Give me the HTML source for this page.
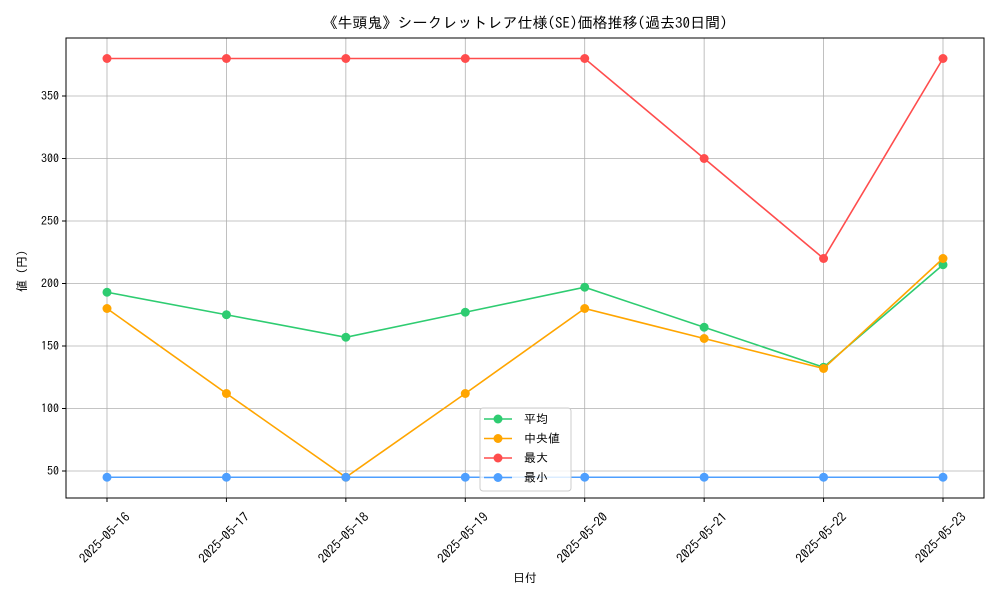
<!DOCTYPE html>
<html><head><meta charset="utf-8"><style>
body{margin:0;background:#fff;}
text{font-family:"IPAGothic","Noto Sans CJK JP",sans-serif;fill:#000;}
</style></head><body>
<svg id="c" width="1000" height="600"></svg>
<script>
const categories=["2025-05-16","2025-05-17","2025-05-18","2025-05-19","2025-05-20","2025-05-21","2025-05-22","2025-05-23"];
const avgVals=[193,175,157,177,197,165,133,215];
const medVals=[180,112,45,112,180,156,132,220];
const maxVals=[380,380,380,380,380,300,220,380];
const minVals=[45,45,45,45,45,45,45,45];
const yTicks=[50,100,150,200,250,300,350];
const seriesNames=["平均","中央値","最大","最小"];
const colors=["#2ecc71","#ffa500","#ff4d4d","#4d9fff"];
const NS="http://www.w3.org/2000/svg";
const svg=document.getElementById('c');
const L=66,R=984,T=38,B=498;
const x=i=>107+i*(943-107)/(categories.length-1);
const y=v=>471-(v-50)*1.25;
function el(t,a,p){const e=document.createElementNS(NS,t);for(const k in a)e.setAttribute(k,a[k]);(p||svg).appendChild(e);return e;}
categories.forEach((c,i)=>{
  const g=el('line',{x1:x(i),x2:x(i),y1:T,y2:B,stroke:'#b0b0b0','stroke-width':0.8});
  
  el('line',{x1:x(i),x2:x(i),y1:B,y2:B+4,stroke:'#000'});
  const cx=x(i)-2,cy=542;
  const t=el('text',{x:cx,y:cy,'font-size':13,'text-anchor':'middle',transform:`rotate(-45 ${cx} ${cy-4})`});
  t.textContent=c;
});
yTicks.forEach(v=>{
  const g=el('line',{x1:L,x2:R,y1:y(v),y2:y(v),stroke:'#b0b0b0','stroke-width':0.8});
  
  el('line',{x1:L-4,x2:L,y1:y(v),y2:y(v),stroke:'#000'});
  const t=el('text',{x:L-7,y:y(v)+4,'font-size':12,'text-anchor':'end'});
  t.textContent=v;
});
const all=[avgVals,medVals,maxVals,minVals];
all.forEach((arr,s)=>{
  const p=el('polyline',{points:arr.map((v,i)=>x(i)+','+y(v)).join(' '),fill:'none',stroke:colors[s],'stroke-width':1.6});
  
  arr.forEach((v,i)=>{const c=el('circle',{cx:x(i),cy:y(v),r:4.5,fill:colors[s]});
    });
});
const fr=el('rect',{x:L,y:T,width:R-L,height:B-T,fill:'none',stroke:'#000','stroke-width':1});

const lg=el('rect',{x:480,y:408,width:91,height:83,rx:3,fill:'rgba(255,255,255,0.8)',stroke:'#ccc'});

seriesNames.forEach((n,s)=>{
  const yy=419+s*19.5;
  el('line',{x1:484,x2:512,y1:yy,y2:yy,stroke:colors[s],'stroke-width':1.6});
  el('circle',{cx:498,cy:yy,r:4.5,fill:colors[s]});
  const t=el('text',{x:524,y:yy+4,'font-size':12});t.textContent=n;
  
});
let t=el('text',{x:525,y:28,'font-size':15,'text-anchor':'middle'});t.textContent="《牛頭鬼》シークレットレア仕様(SE)価格推移(過去30日間)";

t=el('text',{x:525,y:582,'font-size':12,'text-anchor':'middle'});t.textContent="日付";

t=el('text',{x:26,y:268,'font-size':12,'text-anchor':'middle',transform:'rotate(-90 26 268)'});t.textContent="値（円）";

</script>
</body></html>
